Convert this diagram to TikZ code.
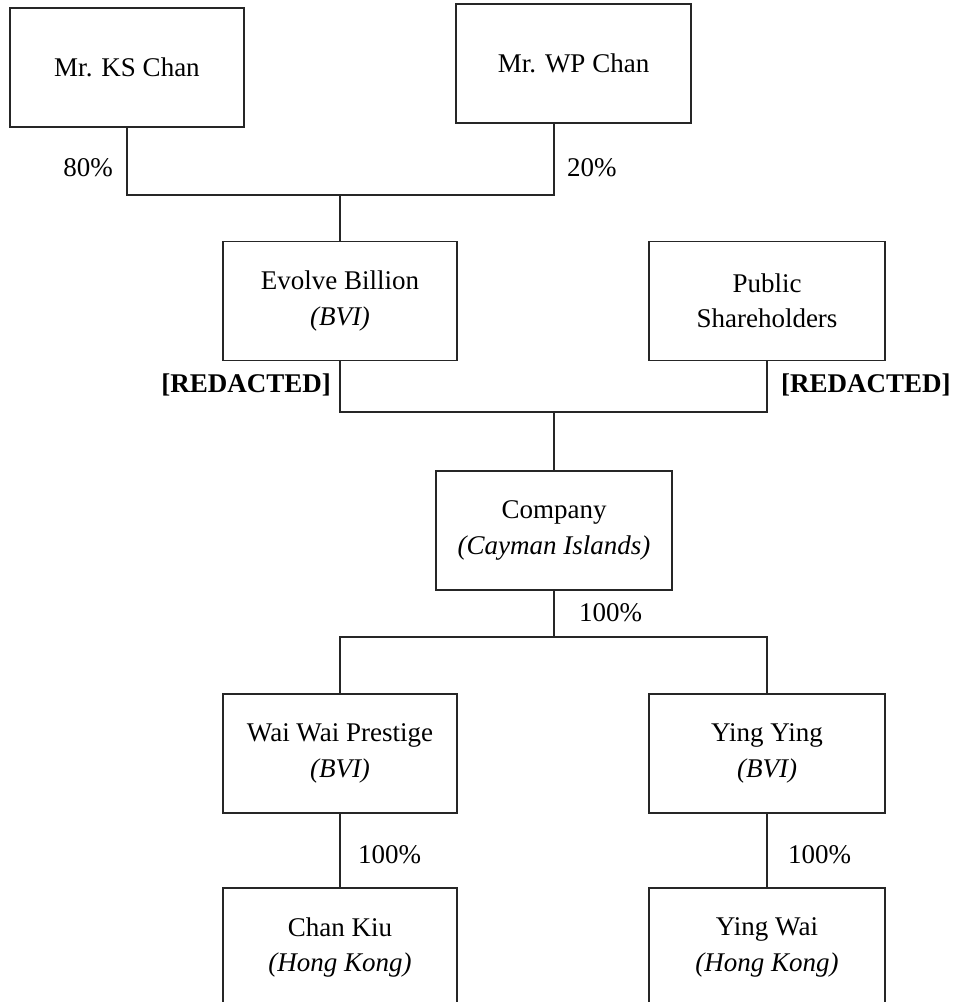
\documentclass[tikz,border=0pt]{standalone}
\usepackage{fontspec}
\setmainfont{Liberation Serif}
\begin{document}
\begin{tikzpicture}[x=1pt,y=-1pt,
  ent/.style={draw=black!85, line width=1.3pt, fill=white, inner sep=0pt,
    minimum width=#1, minimum height=119pt, align=center,
    font=\fontsize{27}{35.5}\selectfont},
  ent/.default=234pt,
  conn/.style={draw=black!85, line width=1.3pt},
  pct/.style={inner sep=0pt, font=\fontsize{27}{32}\selectfont},
  red/.style={inner sep=0pt, font=\fontsize{27}{32}\selectfont\bfseries}]
\useasboundingbox (0,0) rectangle (957,1002);
% entities
\node[ent] (ks) at (127,67.5) {Mr. KS Chan};
\node[ent=235pt] (wp) at (573.5,63.5) {Mr. WP Chan};
\node[ent] (eb) at (340,301) {Evolve Billion\\\textit{(BVI)}};
\node[ent=236pt] (ps) at (767,301) {Public\\Shareholders};
\node[ent=236pt] (co) at (554,530.5) {Company\\\textit{(Cayman Islands)}};
\node[ent] (ww) at (340,753.5) {Wai Wai Prestige\\\textit{(BVI)}};
\node[ent=236pt] (yy) at (767,753.5) {Ying Ying\\\textit{(BVI)}};
\node[ent] (ck) at (340,947.5) {Chan Kiu\\\textit{(Hong Kong)}};
\node[ent=236pt] (yw) at (767,947.5) {Ying Wai\\\textit{(Hong Kong)}};
% junctions
\coordinate (j1) at (340,195);
\coordinate (wpo) at (554,123);
\coordinate (j2) at (554,412);
\coordinate (j3) at (554,637);
% connectors
\draw[conn] (ks.south) |- (j1) -| (wpo);
\draw[conn] (j1) -- (eb.north);
\draw[conn] (eb.south) |- (j2) -| (ps.south);
\draw[conn] (j2) -- (co.north);
\draw[conn] (co.south) -- (j3);
\draw[conn] (ww.north) |- (j3) -| (yy.north);
\draw[conn] (ww.south) -- (ck.north);
\draw[conn] (yy.south) -- (yw.north);
% labels
\node[pct] (l80) at (88,168) {80\%};
\node[pct,anchor=west] (l20) at (567,168) {20\%};
\node[red,anchor=east] (r1) at (331,385) {[REDACTED]};
\node[red,anchor=west] (r2) at (781,385) {[REDACTED]};
\node[pct,anchor=west] (l100a) at (579,613) {100\%};
\node[pct,anchor=west] (l100b) at (358,855) {100\%};
\node[pct,anchor=west] (l100c) at (788,855) {100\%};
\end{tikzpicture}
\end{document}
